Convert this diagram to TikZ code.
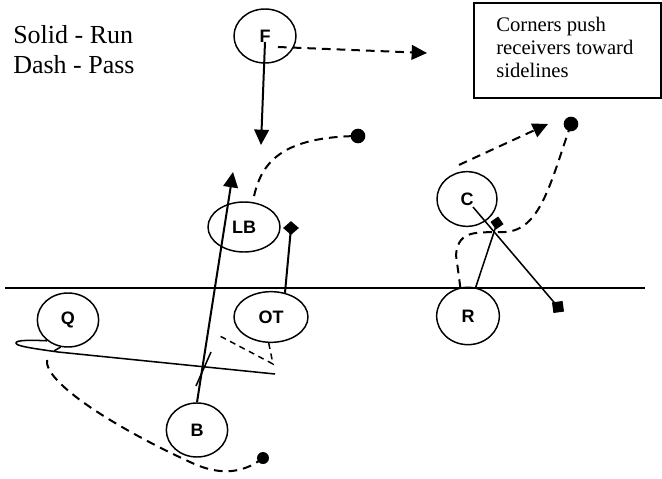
\documentclass[tikz,border=0pt]{standalone}
\usepackage{fontspec}
\setmainfont{Liberation Serif}
\newfontfamily\labelfont{Liberation Sans}
\usetikzlibrary{shapes.geometric,arrows.meta,calc}
\begin{document}
\begin{tikzpicture}[x=0.75pt,y=-0.75pt,
  player/.style={ellipse,draw,line width=1.1pt,inner sep=0pt,font=\labelfont\bfseries\fontsize{13.5}{15}\selectfont},
  route/.style={line width=1.5pt},
  thinroute/.style={line width=1.15pt},
  pass/.style={route,dash pattern=on 6.5pt off 4.5pt},
  tip/.style={-{Triangle[length=11.5pt,width=11pt]}},
  dotmark/.style={circle,fill,inner sep=0pt,minimum size=11pt},
  diamark/.style={diamond,fill,inner sep=0pt},
  sqmark/.style={rectangle,fill,inner sep=0pt},
  legend/.style={anchor=base west,inner sep=0pt,font=\fontsize{19.5}{22}\selectfont},
  notetext/.style={anchor=base west,inner sep=0pt,font=\fontsize{15.5}{17}\selectfont}]
\useasboundingbox (0,0) rectangle (662,479);

% line of scrimmage
\coordinate (LOSl) at (5,288);
\coordinate (LOSr) at (645,288);
\draw[line width=1.1pt] (LOSl) -- (LOSr);

% players
\node[player,minimum width=46.5pt,minimum height=40.5pt] (F) at (265,36) {F};
\node[player,minimum width=54pt,minimum height=37.5pt] (LB) at (244,227) {LB};
\node[player,minimum width=45pt,minimum height=41pt] (C) at (467,199) {C};
\node[player,minimum width=47pt,minimum height=43pt] (R) at (468,316) {R};
\node[player,minimum width=46pt,minimum height=40.5pt] (Q) at (68,320) {Q};
\node[player,minimum width=55.5pt,minimum height=38pt] (OT) at (271,317) {OT};
\node[player,minimum width=46pt,minimum height=40.5pt] (B) at (197,430) {B};

% markers
\node[dotmark] (dotLB) at (358,136) {};
\node[dotmark] (dotC) at (571,124) {};
\node[dotmark,minimum size=9pt] (dotQ) at (263,458) {};
\node[diamark,minimum width=12pt,minimum height=10.5pt] (dmOT) at (291,228) {};
\node[sqmark,rotate=35,minimum size=7pt] (dmR) at (497,223) {};
\node[sqmark,rotate=8,minimum size=8pt] (sqC) at (558,307) {};

% free ends
\coordinate (Ftip) at (261,145);
\coordinate (Fpass) at (427,53);
\coordinate (Btip) at (233,172);
\coordinate (Cpass) at (548,124);
\coordinate (Qend) at (275,374);
\coordinate (Qtick) at (54,351);
\coordinate (tickA) at (196,386);
\coordinate (tickB) at (211,352);
\coordinate (Qpass) at (47,360);
\coordinate (OTbend) at (273,364);
\coordinate (OTend) at (218,335);

% safety
\draw[route,tip] ($(F.center)+(0,6)$) -- (Ftip);
\draw[pass,tip] ($(F.center)+(13,11)$) -- (Fpass);
% linebacker
\draw[pass] ($(LB.70)+(1,-6)$) .. controls (262,160) and (285,137) .. (dotLB.center);
% tackle
\draw[route] (OT.60) -- (dmOT.center);
\draw[pass,line width=1.1pt,dash pattern=on 4.5pt off 3.5pt] (OT.265) -- (OTbend) -- (OTend);
% back
\draw[route,tip] (B.north) -- (Btip);
\draw[thinroute] (tickA) -- (tickB);
% quarterback
\draw[thinroute] (Qend) -- (58,352) .. controls (30,348) and (16,346) .. (16,343) .. controls (16,340) and (30,340) .. (Q.225);
\draw[thinroute] (Q.255) -- (Qtick);
\draw[pass] (Qpass) .. controls (44,382) and (112,426) .. (190,462) .. controls (215,474) and (240,476) .. (dotQ.center);
% corner / receiver
\draw[pass,tip] ($(C.north)+(-8,-6)$) -- (Cpass);
\draw[pass] (dotC.center) .. controls (550,185) and (540,230) .. (505,232) .. controls (480,233) and (458,228) .. (456,255) -- (R.105);
\draw[thinroute] (R.75) -- (dmR.center);
\draw[thinroute] ($(C.center)+(6,8)$) -- (sqC.center);

% legend
\node[legend] (leg1) at (13,43) {Solid - Run};
\node[legend] (leg2) at (13,73) {Dash - Pass};

% note box
\node[draw,line width=1.1pt,minimum width=140.25pt,minimum height=71.25pt,inner sep=0pt] (notebox) at (567.5,50.5) {};
\node[notetext] (note1) at (496,31) {Corners push};
\node[notetext] (note2) at (496,54) {receivers toward};
\node[notetext] (note3) at (496,77) {sidelines};
\end{tikzpicture}
\end{document}
